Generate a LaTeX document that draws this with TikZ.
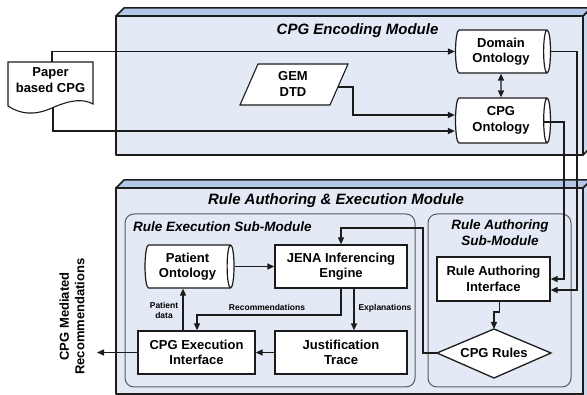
\documentclass[tikz,border=0pt]{standalone}
\usepackage{fontspec}
\setmainfont{Liberation Sans}
\usetikzlibrary{shapes.geometric,arrows.meta}

\definecolor{modfront}{HTML}{E3EAF5}
\definecolor{modtop}{HTML}{B2C6E5}
\definecolor{modside}{HTML}{C9D8EF}
\definecolor{ink}{HTML}{1C1C1C}
\definecolor{subedge}{HTML}{5A5A5A}

\begin{document}
\begin{tikzpicture}[x=1pt,y=-1pt,
  txt/.style={font=\bfseries\fontsize{13}{15.5}\selectfont, align=center, inner sep=0pt},
  small/.style={font=\bfseries\fontsize{8.5}{10.5}\selectfont, align=center, inner sep=0pt},
  modtitle/.style={font=\bfseries\itshape\fontsize{15}{17}\selectfont, inner sep=0pt},
  subtitle/.style={font=\bfseries\itshape\fontsize{13.5}{16}\selectfont, inner sep=0pt, align=center},
  procbox/.style={txt, rectangle, draw=ink, fill=white, line width=1.3pt},
  store/.style={txt, cylinder, draw=ink, fill=white, line width=1.2pt, shape aspect=0.25},
  tip/.tip={Triangle[length=7pt,width=6pt]},
  link/.style={draw=ink, line width=1.3pt},
  flow/.style={link, -tip},
  module/.style={draw=ink, line width=1.5pt, line join=round},
  submodule/.style={draw=subedge, line width=1pt, rounded corners=9pt, fill=modfront},
]
\useasboundingbox (0,0) rectangle (587,395);
\clip (0,0) rectangle (587,395);
\fill[white] (0,0) rectangle (587,395);

% ---- CPG encoding module (3D block)
\draw[module, fill=modside] (583,16) -- (591,8) -- (591,147) -- (583,155) -- cycle;
\draw[module, fill=modtop] (116,16) -- (124,8) -- (591,8) -- (583,16) -- cycle;
\draw[module, fill=modfront] (116,16) rectangle (583,155);
\node[modtitle] (enctitle) at (357.5,31) {CPG Encoding Module};

% ---- rule authoring & execution module (3D block)
\draw[module, fill=modside] (583,188) -- (591,180) -- (591,400) -- (583,400) -- cycle;
\draw[module, fill=modtop] (116,188) -- (124,180) -- (591,180) -- (583,188) -- cycle;
\draw[module, fill=modfront] (116,188) rectangle (583,394);
\node[modtitle] (ruletitle) at (336,201) {Rule Authoring \& Execution Module};

% sub-modules
\draw[submodule] (125,214) rectangle (415,387);
\draw[submodule] (428,214) rectangle (571,387);
\node[subtitle, anchor=west] (exectitle) at (133,227) {Rule Execution Sub-Module};
\node[subtitle] (authtitle) at (500,233) {Rule Authoring\\Sub-Module};

% ---- paper based guideline (document shape)
\draw[ink, line width=1.1pt, fill=white] (8,62) -- (93,62) -- (93,104)
  .. controls (84,99) and (72,99) .. (52,108)
  .. controls (34,116) and (20,114) .. (8,106) -- cycle;
\node[txt] (paper) at (50.5,80) {Paper\\based CPG};
\coordinate (papertop) at (52,62);
\coordinate (paperbot) at (53,108);

% ---- GEM DTD (parallelogram)
\draw[ink, line width=1.1pt, fill=white] (240,105) -- (258,64) -- (348,64) -- (330,105) -- cycle;
\node[txt] (gem) at (293,84) {GEM\\DTD};
\coordinate (gemout) at (338,87);

% ---- ontologies (horizontal cylinders: height = axis length, width = diameter)
\node[store, minimum height=95, minimum width=43] (domain) at (501,51.5) {Domain\\Ontology};
\node[store, minimum height=95, minimum width=45] (cpgonto) at (501,120.5) {CPG\\Ontology};
\node[store, minimum height=89, minimum width=43] (patient) at (187.5,266.5) {Patient\\Ontology};

% ---- processes
\node[procbox, minimum width=132, minimum height=43] (jena) at (341,266.5) {JENA Inferencing\\Engine};
\node[procbox, minimum width=117, minimum height=43] (exec) at (196.5,352.5) {CPG Execution\\Interface};
\node[procbox, minimum width=132, minimum height=43] (just) at (341,352.5) {Justification\\Trace};
\node[procbox, minimum width=113, minimum height=44] (rai) at (493.5,279) {Rule Authoring\\Interface};

% ---- rule base (decision-style diamond)
\coordinate (rulesW) at (437,353);
\coordinate (rulesN) at (494,329);
\coordinate (rulesE) at (551,353);
\coordinate (rulesS) at (494,378);
\draw[ink, line width=1.3pt, fill=white, line join=miter] (rulesW) -- (rulesN) -- (rulesE) -- (rulesS) -- cycle;
\node[txt] (rules) at (494,353) {CPG Rules};

% ---- connectors: encoding module
\draw[flow] (papertop) |- (domain.west);
\coordinate (pb) at (53,131);
\draw[flow] (paperbot) -- (pb) -- (pb -| cpgonto.west);
\coordinate (gb) at (353,115);
\draw[flow] (gemout) -| (gb) -- (gb -| cpgonto.west);
\draw[link, tip-tip] (domain.south) -- (cpgonto.north);

% ---- connectors: ontologies to rule authoring
\coordinate (dbend) at (577,290);
\draw[flow] (domain.east) -| (dbend) -- (dbend -| rai.east);
\coordinate (cstart) at (543,122);
\coordinate (cbend) at (564,279);
\draw[flow] (cstart) -| (cbend) -- (cbend -| rai.east);

% ---- connectors: rule authoring & execution
\coordinate (rjog) at (499.5,312);
\draw[flow] (rjog |- rai.south) -- (rjog) -| (rulesN);
\coordinate (rj) at (423,228);
\draw[flow] (rulesW) -| (rj) -| (jena.north);
\draw[flow] (patient.east) -- (patient.east -| jena.west);
\coordinate (recbend) at (197,315);
\draw[flow] (jena.south) |- (recbend) -- (recbend |- exec.north);
\coordinate (expl) at (354,300);
\draw[flow] (expl |- jena.south) -- (expl |- just.north);
\coordinate (pdata) at (183,310);
\draw[flow] (pdata |- exec.north) -- (pdata |- patient.south);
\draw[flow] (just.west) -- (exec.east);
\coordinate (outcome) at (97,352.5);
\draw[flow] (exec.west) -- (outcome);

% ---- labels
\node[small] (reclabel) at (267,307.5) {Recommendations};
\node[small] (explabel) at (385,308) {Explanations};
\node[small] (pdlabel) at (164,310.5) {Patient\\data};
\node[txt, rotate=90] (outlabel) at (72,316.5) {CPG Mediated\\Recommendations};
\end{tikzpicture}
\end{document}
